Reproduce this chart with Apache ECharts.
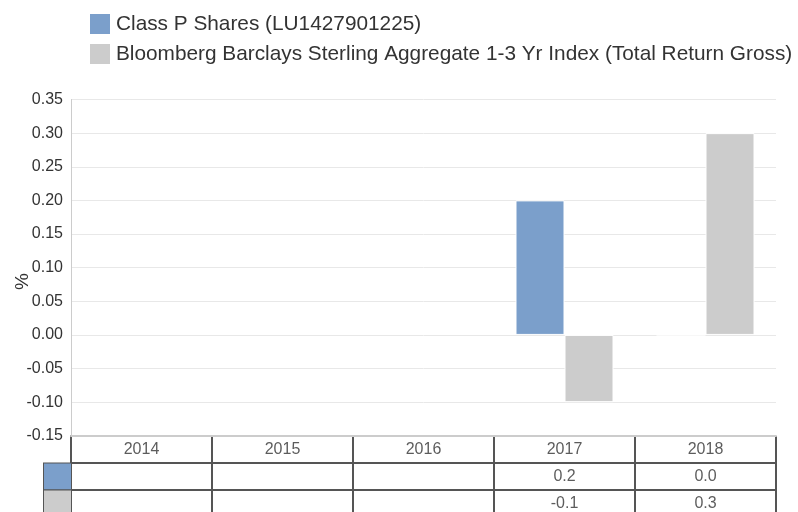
<!DOCTYPE html>
<html>
<head>
<meta charset="utf-8">
<script src="https://cdn.jsdelivr.net/npm/echarts@6/dist/echarts.min.js"></script>
<style>html,body{margin:0;padding:0;background:#fff}#c{width:798px;height:512px}</style>
</head>
<body>
<div id="c"></div>
<script>
var years = ['2014', '2015', '2016', '2017', '2018'];
var classP = [null, null, null, 0.2, 0.0];
var bench = [null, null, null, -0.1, 0.3];
var seriesNames = ['Class P Shares (LU1427901225)', 'Bloomberg Barclays Sterling Aggregate 1-3 Yr Index (Total Return Gross)'];
var yTicks = { min: -0.15, max: 0.35, interval: 0.05 };

var colP = '#7b9fcb', colB = '#cccccc';
var font = 'Liberation Sans, Arial, sans-serif';

var cells = [];
years.forEach(function (y, i) { cells.push([i, 0, y]); });
classP.forEach(function (v, i) { if (v !== null) cells.push([i, 1, v.toFixed(1)]); });
bench.forEach(function (v, i) { if (v !== null) cells.push([i, 2, v.toFixed(1)]); });

var chart = echarts.init(document.getElementById('c'), null, { renderer: 'canvas' });
chart.setOption({
  animation: false,
  textStyle: { fontFamily: font },
  legend: {
    orient: 'vertical', left: 88, top: 12, padding: 0,
    itemWidth: 22, itemHeight: 22, itemGap: 6,
    icon: 'rect',
    data: seriesNames,
    textStyle: { fontSize: 20.8, color: '#333', fontFamily: font },
    selectedMode: false
  },
  grid: [
    { left: 71, right: 22, top: 99.5, bottom: 76.2, outerBoundsMode: 'none', containLabel: false },
    { left: 71, right: 22, top: 436, height: 81, outerBoundsMode: 'none', containLabel: false }
  ],
  xAxis: [
    { type: 'category', gridIndex: 0, data: years, z: 5,
      axisLine: { onZero: false, lineStyle: { color: '#cccccc', width: 2 } },
      axisTick: { show: false }, axisLabel: { show: false }, splitLine: { show: false } },
    { type: 'category', gridIndex: 1, data: years,
      axisLine: { show: true, lineStyle: { color: '#555', width: 2 } },
      axisTick: { show: false }, axisLabel: { show: false },
      splitLine: { show: true, lineStyle: { color: '#555', width: 2 } } }
  ],
  yAxis: [
    { type: 'value', gridIndex: 0, min: yTicks.min, max: yTicks.max, interval: yTicks.interval,
      name: '%', nameLocation: 'middle', nameGap: 39, nameRotate: 90, nameMoveOverlap: false,
      nameTextStyle: { fontSize: 19, color: '#333', fontFamily: font, padding: [0, 28, 0, 0] },
      axisLine: { show: true, lineStyle: { color: '#cccccc', width: 1 } },
      axisTick: { show: false },
      axisLabel: { fontSize: 16, color: '#333', margin: 8, fontFamily: font,
        formatter: function (v) { return v.toFixed(2); } },
      splitLine: { lineStyle: { color: '#e8e8e8', width: 1 } } },
    { type: 'category', gridIndex: 1, inverse: true, data: ['h', 'p', 'b'],
      axisLine: { show: true, lineStyle: { color: '#555', width: 2 } },
      axisTick: { show: false },
      axisLabel: { margin: 0, interval: 0,
        formatter: function (v) { return v === 'h' ? '' : '{' + v + '|}'; },
        rich: {
          p: { width: 27, height: 26, backgroundColor: colP, borderColor: '#555', borderWidth: 1 },
          b: { width: 27, height: 26, backgroundColor: colB, borderColor: '#555', borderWidth: 1 }
        } },
      splitLine: { show: true, lineStyle: { color: '#555', width: 2 } } }
  ],
  series: [
    { name: seriesNames[0], type: 'bar', xAxisIndex: 0, yAxisIndex: 0, data: classP,
      barWidth: 49, barGap: '0%',
      itemStyle: { color: colP, borderColor: '#fff', borderWidth: 1 } },
    { name: seriesNames[1], type: 'bar', xAxisIndex: 0, yAxisIndex: 0, data: bench,
      barWidth: 49, barGap: '0%',
      itemStyle: { color: colB, borderColor: '#fff', borderWidth: 1 } },
    { type: 'scatter', xAxisIndex: 1, yAxisIndex: 1, data: cells,
      symbolSize: 1, itemStyle: { color: 'rgba(0,0,0,0)' }, silent: true,
      label: { show: true, position: 'inside', color: '#333', fontSize: 16, fontFamily: font,
        formatter: function (p) { return p.value[2]; } } }
  ]
});
</script>
</body>
</html>
